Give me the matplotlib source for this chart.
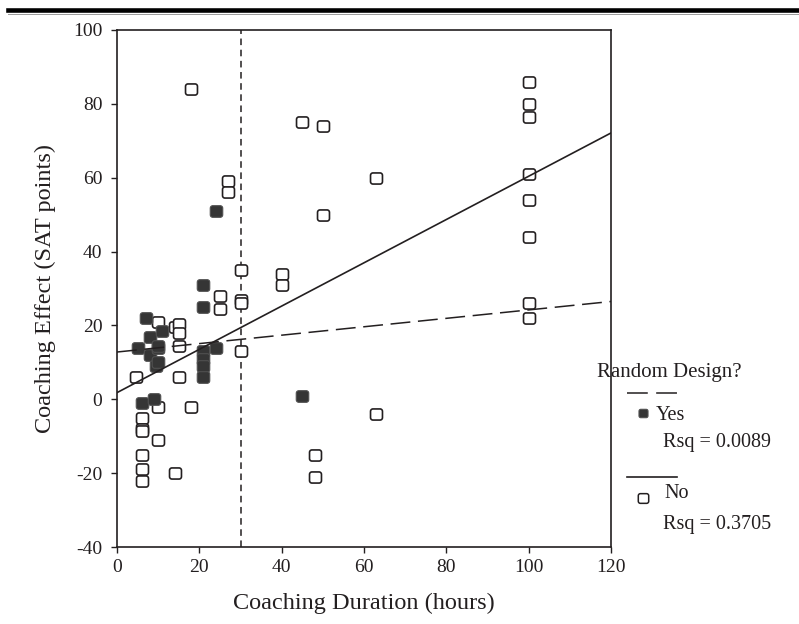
import numpy as np
import matplotlib
matplotlib.use('Agg')
import matplotlib.pyplot as plt
from matplotlib.path import Path
from matplotlib.lines import Line2D

plt.rcParams['font.family'] = ['Liberation Serif', 'DejaVu Serif']
plt.rcParams['axes.unicode_minus'] = False

# random design = Yes (filled markers)
yes_hours = [5, 7, 8, 8, 10, 10, 11, 9.5, 10, 6, 9, 21, 21, 21, 21, 21, 21, 24, 24, 45]
yes_effect = [14, 22, 17, 12, 14, 14.5, 18.5, 9, 10, -1, 0, 31, 25, 13, 11, 9, 6, 14, 51, 1]

# random design = No (open markers)
no_hours = [4.5, 6, 6, 6, 6, 6, 6, 10, 10, 10, 14, 14, 15, 15, 15, 15, 18, 18,
            25, 25, 27, 27, 30, 30, 30, 30, 40, 40, 45, 48, 48, 50, 50, 63, 63,
            100, 100, 100, 100, 100, 100, 100, 100]
no_effect = [6, -5, -8, -8.5, -15, -19, -22, 21, -2, -11, 19.5, -20, 20.5, 18, 14.5, 6, 84, -2,
             28, 24.5, 59, 56, 35, 27, 26, 13, 34, 31, 75, -15, -21, 74, 50, 60, -4,
             86, 80, 76.5, 61, 54, 44, 26, 22]

# fit lines (intercept, slope)
yes_fit = (12.8, 0.114)
no_fit = (1.8, 0.586)
yes_rsq = 'Rsq = 0.0089'
no_rsq = 'Rsq = 0.3705'
cutoff_hours = 30

x_ticks = [0, 20, 40, 60, 80, 100, 120]
y_ticks = [-40, -20, 0, 20, 40, 60, 80, 100]


def rounded_box(w=1.0, h=0.93, r=0.4, n=8):
    pts = []
    corners = [(w - r, h - r, 0), (-w + r, h - r, 90), (-w + r, -h + r, 180), (w - r, -h + r, 270)]
    for cx, cy, a0 in corners:
        for t in np.linspace(np.radians(a0), np.radians(a0 + 90), n):
            pts.append((cx + r * np.cos(t), cy + r * np.sin(t)))
    pts.append(pts[0])
    codes = [Path.MOVETO] + [Path.LINETO] * (len(pts) - 2) + [Path.CLOSEPOLY]
    return Path(pts, codes)


box = rounded_box()
INK = '#231f20'

fig = plt.figure(figsize=(7.99, 6.24), dpi=100)
ax = fig.add_axes([117 / 799, 1 - 547 / 624, (611 - 117) / 799, (547 - 30) / 624])

ax.plot(no_hours, no_effect, ls='none', marker=box, ms=8.6, mfc='white', mec=INK, mew=1.2, zorder=3)
ax.plot(yes_hours, yes_effect, ls='none', marker=box, ms=9.0, mfc='#353535', mec='#505050', mew=0.8, zorder=4)

xx = np.array([0, 120])
ax.plot(xx, yes_fit[0] + yes_fit[1] * xx, color=INK, lw=1.1, dashes=(13, 5), zorder=5)
ax.plot(xx, no_fit[0] + no_fit[1] * xx, color=INK, lw=1.2, zorder=5)
ax.axvline(cutoff_hours, color=INK, lw=1.1, dashes=(4.3, 3), zorder=2)

ax.set_xlim(0, 120)
ax.set_ylim(-40, 100)
ax.set_xticks(x_ticks)
ax.set_yticks(y_ticks)
ax.tick_params(direction='out', length=4.5, width=1.0, color=INK, labelsize=14, labelcolor=INK)
ax.tick_params(axis='x', pad=4)
ax.tick_params(axis='y', pad=6)
for s in ax.spines.values():
    s.set_linewidth(1.2)
    s.set_color(INK)

ax.set_xlabel('Coaching Duration (hours)', fontsize=17.5, color=INK, labelpad=12)
ax.set_ylabel('Coaching Effect (SAT points)', fontsize=17.5, color=INK, labelpad=12)


def fx(px):
    return px / 799


def fy(py):
    return 1 - py / 624


# legend drawn by hand
fig.text(fx(597), fy(373), 'Random Design?', fontsize=15, color=INK, va='center', ha='left')
fig.add_artist(Line2D([fx(627), fx(677)], [fy(393)] * 2, color=INK, lw=1.1, dashes=(13.6, 5.5)))
fig.add_artist(Line2D([fx(642.7)], [fy(413)], ls='none', marker=box, ms=6.5,
                      mfc='#353535', mec='#505050', mew=0.8))
fig.text(fx(656), fy(415), 'Yes', fontsize=14.5, color=INK, va='center', ha='left')
fig.text(fx(663), fy(443), yes_rsq, fontsize=14.5, color=INK, va='center', ha='left')
fig.add_artist(Line2D([fx(627), fx(677)], [fy(477)] * 2, color=INK, lw=1.2))
fig.add_artist(Line2D([fx(642.7)], [fy(498)], ls='none', marker=box, ms=7.5,
                      mfc='white', mec=INK, mew=1.1))
fig.text(fx(664), fy(494), 'No', fontsize=14.5, color=INK, va='center', ha='left')
fig.text(fx(663), fy(525), no_rsq, fontsize=14.5, color=INK, va='center', ha='left')

# rule at the top of the page
fig.add_artist(Line2D([fx(8), 1], [fy(10)] * 2, color='black', lw=3.3))
fig.add_artist(Line2D([fx(8), 1], [fy(13.5)] * 2, color='#9a9a9a', lw=0.7))

fig.savefig('out.png', dpi=100)
